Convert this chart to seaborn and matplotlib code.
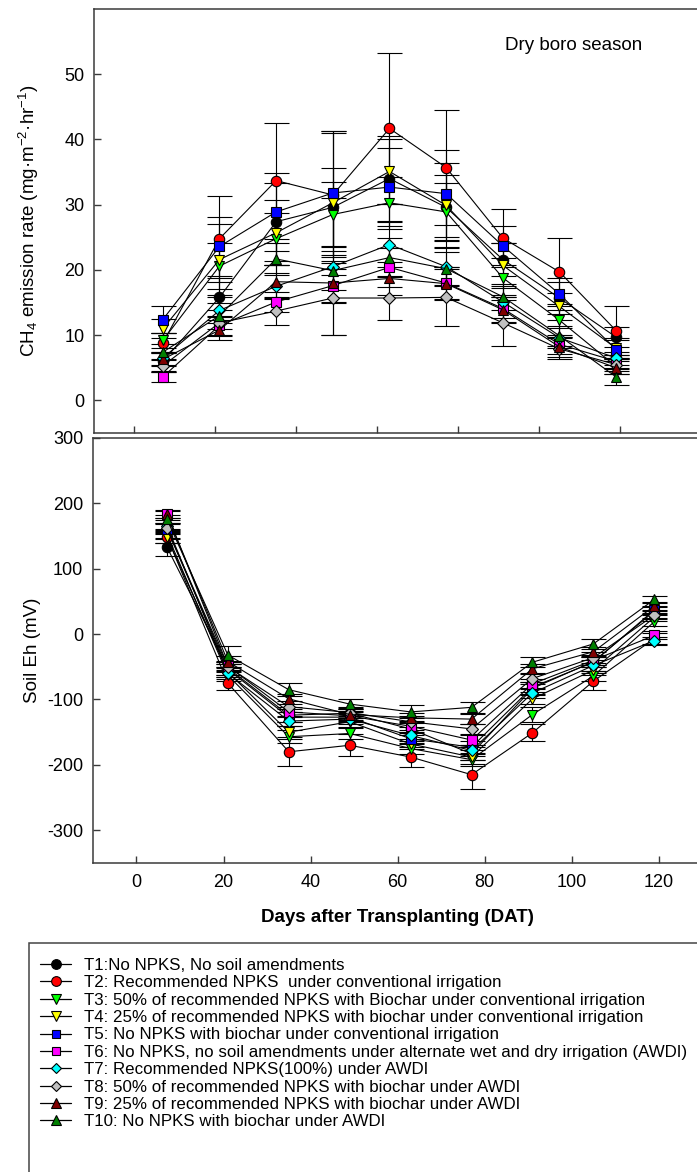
""" CH4 emission and soil Eh over the dry boro season """

import matplotlib
matplotlib.use("Agg")
import matplotlib.pyplot as plt
import pandas as pd
import seaborn as sns
from matplotlib.lines import Line2D
from matplotlib.patches import Rectangle

# sampling days (DAT)
days = [7, 21, 35, 49, 63, 77, 91, 105, 119]

treatments = ["T1", "T2", "T3", "T4", "T5", "T6", "T7", "T8", "T9", "T10"]
legend_labels = [
    "T1:No NPKS, No soil amendments",
    "T2: Recommended NPKS  under conventional irrigation",
    "T3: 50% of recommended NPKS with Biochar under conventional irrigation",
    "T4: 25% of recommended NPKS with biochar under conventional irrigation",
    "T5: No NPKS with biochar under conventional irrigation",
    "T6: No NPKS, no soil amendments under alternate wet and dry irrigation (AWDI)",
    "T7: Recommended NPKS(100%) under AWDI",
    "T8: 50% of recommended NPKS with biochar under AWDI",
    "T9: 25% of recommended NPKS with biochar under AWDI",
    "T10: No NPKS with biochar under AWDI",
]

# CH4 emission rate (mg m-2 hr-1), one row per treatment
ch4_mean = [
    [6.0, 15.8, 27.4, 29.6, 34.0, 29.6, 21.6, 15.7, 9.7],
    [8.8, 24.8, 33.7, 31.5, 41.7, 35.7, 24.9, 19.7, 10.7],
    [9.2, 20.6, 24.8, 28.5, 30.3, 28.9, 18.8, 12.3, 5.2],
    [11.0, 21.6, 25.7, 30.3, 35.1, 29.9, 20.7, 14.4, 8.0],
    [12.4, 23.6, 28.9, 31.8, 32.7, 31.7, 23.7, 16.3, 7.8],
    [3.6, 11.5, 15.1, 17.6, 20.4, 18.0, 14.1, 8.6, 6.0],
    [6.5, 13.8, 17.5, 20.5, 23.9, 20.5, 15.1, 9.6, 6.5],
    [5.3, 11.9, 13.7, 15.7, 15.7, 15.8, 11.9, 7.9, 5.5],
    [6.3, 10.8, 18.2, 18.0, 18.7, 17.9, 13.9, 8.2, 5.0],
    [7.4, 13.0, 21.7, 19.9, 21.9, 20.2, 15.9, 9.9, 3.6],
]
ch4_se = [
    [1.5, 3.0, 6.0, 6.0, 6.5, 5.0, 2.5, 2.5, 1.5],
    [1.5, 6.6, 8.9, 9.5, 11.6, 8.8, 4.4, 5.2, 3.8],
    [1.2, 3.5, 4.0, 5.0, 4.0, 4.5, 3.0, 2.5, 1.2],
    [1.5, 5.5, 5.0, 11.0, 5.0, 6.5, 3.5, 2.0, 1.5],
    [2.1, 4.5, 6.0, 9.5, 6.0, 6.7, 3.0, 2.5, 1.5],
    [0.8, 1.5, 1.5, 2.5, 3.0, 2.5, 2.0, 1.5, 1.0],
    [1.0, 2.0, 2.0, 10.5, 3.5, 3.0, 2.5, 1.5, 1.0],
    [1.0, 2.0, 2.1, 5.7, 3.3, 4.4, 3.5, 1.6, 1.0],
    [1.0, 1.5, 2.5, 3.0, 2.5, 2.5, 2.0, 1.5, 1.0],
    [1.2, 2.0, 2.5, 3.0, 3.0, 2.5, 2.0, 1.5, 1.2],
]

# soil Eh (mV)
eh_mean = [
    [133, -52, -124, -121, -145, -183, -83, -42, 35],
    [149, -75, -180, -170, -188, -215, -151, -72, -7],
    [153, -63, -157, -152, -175, -192, -123, -64, 19],
    [148, -58, -150, -134, -168, -188, -99, -55, 26],
    [161, -54, -127, -127, -160, -173, -81, -43, 37],
    [184, -49, -119, -125, -141, -162, -76, -40, -2],
    [166, -60, -133, -130, -155, -178, -90, -48, -10],
    [162, -50, -111, -120, -134, -145, -68, -36, 29],
    [183, -42, -99, -123, -128, -130, -53, -27, 43],
    [176, -32, -85, -107, -119, -112, -43, -15, 53],
]
eh_se = [
    [14, 10, 10, 8, 10, 10, 10, 8, 6],
    [10, 10, 22, 17, 15, 22, 13, 13, 8],
    [8, 8, 10, 8, 8, 10, 12, 8, 6],
    [8, 8, 10, 8, 8, 10, 8, 8, 6],
    [8, 8, 8, 8, 8, 10, 8, 8, 6],
    [6, 8, 8, 8, 8, 8, 8, 8, 6],
    [8, 8, 8, 8, 8, 8, 8, 8, 6],
    [8, 8, 8, 8, 8, 8, 8, 8, 6],
    [6, 8, 8, 8, 8, 8, 8, 8, 6],
    [6, 14, 10, 8, 10, 8, 8, 8, 6],
]

# styles
colors = {"T1": "#000000", "T2": "#ff0000", "T3": "#00ff00", "T4": "#ffff00",
          "T5": "#0000ff", "T6": "#ff00ff", "T7": "#00ffff", "T8": "#c0c0c0",
          "T9": "#800000", "T10": "#008000"}
markers = {"T1": "o", "T2": "o", "T3": "v", "T4": "v", "T5": "s", "T6": "s",
           "T7": "D", "T8": "D", "T9": "^", "T10": "^"}
marker_sizes = {"o": 7.5, "v": 7.5, "s": 6.5, "D": 6.0, "^": 7.5}


def long_table(means, errs):
    """ Build a long dataframe from the per-treatment rows """
    rows = []
    for trt, m_row, e_row in zip(treatments, means, errs):
        for day, m, e in zip(days, m_row, e_row):
            rows.append([trt, day, m, e])
    return pd.DataFrame(rows, columns=["treatment", "day", "value", "err"])


def draw_panel(ax, df):
    """ Error bars, then black lines with coloured markers """
    for trt in treatments:
        sub = df[df["treatment"] == trt]
        ax.errorbar(sub["day"], sub["value"], yerr=sub["err"], fmt="none",
                    ecolor="black", elinewidth=0.8, capsize=9, capthick=0.8, zorder=1)
    sns.lineplot(data=df, x="day", y="value", hue="treatment", style="treatment",
                 hue_order=treatments, style_order=treatments, palette=colors,
                 markers=markers, dashes=False, linewidth=0.8, markersize=7.5,
                 markeredgecolor="black", markeredgewidth=0.8, legend=False,
                 errorbar=None, ax=ax, zorder=2)
    for line, trt in zip(ax.lines[-len(treatments):], treatments):
        line.set_markerfacecolor(colors[trt])
        line.set_markersize(marker_sizes[markers[trt]])
        line.set_color("black")


sns.set_style("white")
plt.rcParams["font.family"] = ["Liberation Sans", "DejaVu Sans"]
plt.rcParams["mathtext.fontset"] = "custom"
plt.rcParams["mathtext.rm"] = "Liberation Sans"
plt.rcParams["mathtext.it"] = "Liberation Sans"
plt.rcParams["axes.unicode_minus"] = False
plt.rcParams["text.color"] = "black"
plt.rcParams["axes.labelcolor"] = "black"
plt.rcParams["xtick.color"] = "black"
plt.rcParams["ytick.color"] = "black"

fig = plt.figure(figsize=(6.97, 11.72), dpi=100)
ax1 = fig.add_axes([0.1349, 0.6305, 0.871, 0.3618])
ax2 = fig.add_axes([0.1334, 0.2637, 0.874, 0.3626])

draw_panel(ax1, long_table(ch4_mean, ch4_se))
draw_panel(ax2, long_table(eh_mean, eh_se))

ax1.set_xlim(-10, 140)
ax1.set_ylim(-5, 60)
ax2.set_xlim(-10, 130)
ax2.set_ylim(-350, 300)

ax1.set_xticks(range(0, 121, 20))
ax1.set_yticks(range(0, 51, 10))
ax2.set_xticks(range(0, 121, 20))
ax2.set_yticks(range(-300, 301, 100))

for ax in (ax1, ax2):
    for side in ("left", "bottom", "top", "right"):
        ax.spines[side].set_color("#3a3a3a")
        ax.spines[side].set_linewidth(1.1)
    ax.tick_params(direction="in", length=5, width=1, color="#3a3a3a",
                   labelcolor="black", labelsize=13,
                   left=True, bottom=True, top=False, right=False)
    ax.tick_params(axis="y", pad=7)
    ax.tick_params(axis="x", pad=8)
ax1.tick_params(labelbottom=False)

ax1.set_xlabel("")
ax1.set_ylabel("CH$_4$ emission rate (mg·m$^{-2}$·hr$^{-1}$)", fontsize=13.5)
ax1.yaxis.set_label_coords(-0.088, 0.5)
ax2.set_ylabel("Soil Eh (mV)", fontsize=13.5)
ax2.yaxis.set_label_coords(-0.086, 0.5)
ax2.set_xlabel("Days after Transplanting (DAT)", fontsize=13.5, fontweight="bold",
               labelpad=13)

ax1.text(0.677, 0.915, "Dry boro season", transform=ax1.transAxes,
         fontsize=13.5, va="center", ha="left")

# legend in an open box at the bottom
handles = [Line2D([0], [0], color="black", lw=0.9, marker=markers[t],
                  markerfacecolor=colors[t], markeredgecolor="black",
                  markeredgewidth=0.8, markersize=marker_sizes[markers[t]] - 0.5)
           for t in treatments]
fig.legend(handles, legend_labels, loc="upper left",
           bbox_to_anchor=(40 / 697, 1 - 958 / 1172), frameon=False,
           fontsize=12.2, handlelength=1.85, handletextpad=0.72,
           labelspacing=0.14, borderpad=0, borderaxespad=0)
fig.patches.append(Rectangle((29 / 697, -0.02), 1.0, 0.02 + (1 - 943 / 1172),
                             transform=fig.transFigure, fill=False,
                             edgecolor="#444444", linewidth=1.1))

fig.savefig("out.png", dpi=100)
